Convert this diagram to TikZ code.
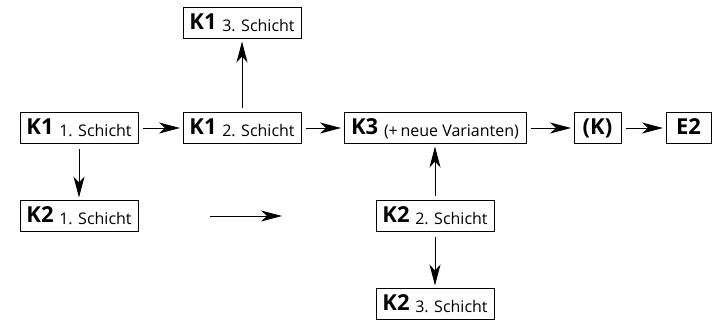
\documentclass[tikz,border=0pt]{standalone}
\usepackage{fontspec}
\setmainfont{Open Sans}
\usetikzlibrary{arrows.meta, positioning}
\tikzset{
  layerbox/.style={
    rectangle, draw=black, line width=0.9pt, minimum height=31pt,
    inner xsep=3pt, inner ysep=0pt, outer sep=0pt, text height=16pt, text depth=4pt,
    text centered, font=\fontsize{22}{24}\selectfont
  },
  arrow/.style={
    -{Stealth[length=21pt, width=11pt, inset=6pt]}, line width=1pt,
    shorten <=5pt, shorten >=3pt
  }
}
\newcommand{\layer}[1]{\raisebox{-2pt}{\fontsize{16}{17}\selectfont #1}}

\begin{document}
\begin{tikzpicture}[x=1pt, y=-1pt, node distance=57pt and 45pt]
\useasboundingbox (0,0) rectangle (718,322);

% Erste Reihe
\node[layerbox, minimum width=118pt] (k1a) at (79,128) {\textbf{K1} \layer{1. Schicht}};
\node[layerbox, minimum width=118pt, right=of k1a] (k1b) {\textbf{K1} \layer{2. Schicht}};
\node[layerbox, minimum width=182pt, right=43pt of k1b] (k3) {\textbf{K3} \layer{(+\,neue Varianten)}};
\node[layerbox, minimum width=47pt, right=48pt of k3] (k) {\textbf{(K)}};
\node[layerbox, minimum width=45pt, right=of k] (e2) {\textbf{E2}};

% Nach oben / unten
\node[layerbox, minimum width=118pt, above=74pt of k1b] (k1c) {\textbf{K1} \layer{3. Schicht}};
\node[layerbox, minimum width=118pt, below=of k1a] (k2a) {\textbf{K2} \layer{1. Schicht}};
\node[layerbox, minimum width=118pt, below=of k3] (k2b) {\textbf{K2} \layer{2. Schicht}};
\node[layerbox, minimum width=118pt, below=of k2b] (k2c) {\textbf{K2} \layer{3. Schicht}};

% freier Pfeil
\coordinate (free1) at (210,216);
\coordinate (free2) at (282,216);

% Pfeile
\draw[arrow] (k1a) -- (k1b);
\draw[arrow] (k1b) -- (k3);
\draw[arrow] (k3) -- (k);
\draw[arrow] (k) -- (e2);
\draw[arrow] (k1b) -- (k1c);
\draw[arrow] (k1a) -- (k2a);
\draw[arrow] (k2b) -- (k3);
\draw[arrow] (k2b) -- (k2c);
\draw[arrow, shorten <=0pt, shorten >=0pt] (free1) -- (free2);

\end{tikzpicture}
\end{document}
